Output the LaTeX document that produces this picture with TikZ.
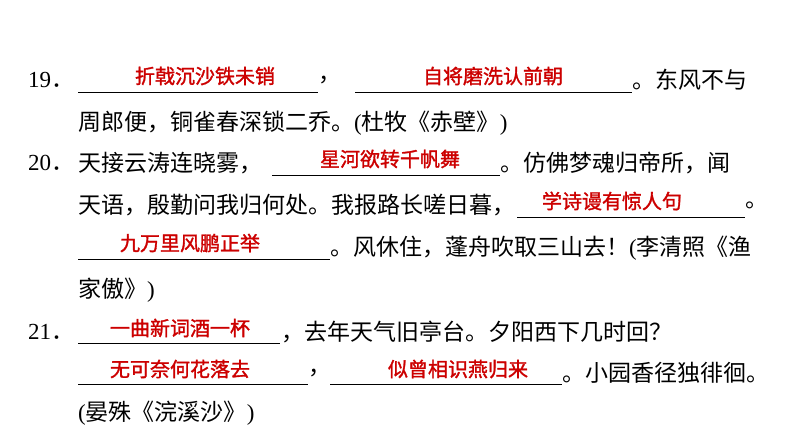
\documentclass[tikz,border=0pt]{standalone}
\usepackage{fontspec}
\setmainfont{Liberation Serif}
\newfontfamily\cjk{Noto Sans CJK SC}
\newfontfamily\cjkb[FakeBold=1.5]{Noto Sans CJK SC}
\begin{document}
\begin{tikzpicture}[x=1pt,y=-1pt,
  txt/.style={anchor=west,inner sep=0pt,font=\fontsize{23}{23}\selectfont\cjk},
  num/.style={anchor=west,inner sep=0pt,font=\fontsize{23}{23}\selectfont},
  ans/.style={inner sep=0pt,text=red!80!black,font=\fontsize{20}{20}\selectfont\cjkb},
  ul/.style={line width=0.8pt}]
\useasboundingbox (0,0) rectangle (794,447);
% line 1
\node[num] (n19) at (28,80) {19{\cjk ．}};
\coordinate (a1) at (78,92); \coordinate (b1) at (318,92);
\draw[ul] (a1) -- (b1);
\node[ans] (r1) at (205,76) {折戟沉沙铁未销};
\node[txt] (c1) at (318,80) {，};
\coordinate (a2) at (355,92); \coordinate (b2) at (632,92);
\draw[ul] (a2) -- (b2);
\node[ans] (r2) at (493,76) {自将磨洗认前朝};
\node[txt] (t1) at (632,80) {。东风不与};
% line 2
\node[txt] (t2) at (78,123) {周郎便，铜雀春深锁二乔。{\rmfamily(}杜牧《赤壁》{\rmfamily)}};
% line 3
\node[num] (n20) at (28,163) {20{\cjk ．}};
\node[txt] (t3) at (78,163) {天接云涛连晓雾，};
\coordinate (a3) at (272,175); \coordinate (b3) at (500,175);
\draw[ul] (a3) -- (b3);
\node[ans] (r3) at (390,159) {星河欲转千帆舞};
\node[txt] (t4) at (500,163) {。仿佛梦魂归帝所，闻};
% line 4
\node[txt] (t5) at (78,205) {天语，殷勤问我归何处。我报路长嗟日暮，};
\coordinate (a4) at (517,217); \coordinate (b4) at (745,217);
\draw[ul] (a4) -- (b4);
\node[ans] (r4) at (612,201) {学诗谩有惊人句};
\node[txt] (t6) at (745,205) {。};
% line 5
\coordinate (a5) at (78,259); \coordinate (b5) at (330,259);
\draw[ul] (a5) -- (b5);
\node[ans] (r5) at (190,243) {九万里风鹏正举};
\node[txt] (t7) at (330,248) {。风休住，蓬舟吹取三山去！{\rmfamily(}李清照《渔};
% line 6
\node[txt] (t8) at (78,290) {家傲》{\rmfamily)}};
% line 7
\node[num] (n21) at (28,332) {21{\cjk ．}};
\coordinate (a6) at (78,343); \coordinate (b6) at (280,343);
\draw[ul] (a6) -- (b6);
\node[ans] (r6) at (180,328) {一曲新词酒一杯};
\node[txt] (t9) at (281,332) {，去年天气旧亭台。夕阳西下几时回？};
% line 8
\coordinate (a7) at (78,384); \coordinate (b7) at (308,384);
\draw[ul] (a7) -- (b7);
\node[ans] (r7) at (180,369) {无可奈何花落去};
\node[txt] (c2) at (308,373) {，};
\coordinate (a8) at (330,384); \coordinate (b8) at (562,384);
\draw[ul] (a8) -- (b8);
\node[ans] (r8) at (458,369) {似曾相识燕归来};
\node[txt] (t10) at (562,373) {。小园香径独徘徊。};
% line 9
\node[txt] (t11) at (78,413) {{\rmfamily(}晏殊《浣溪沙》{\rmfamily)}};
\end{tikzpicture}
\end{document}
